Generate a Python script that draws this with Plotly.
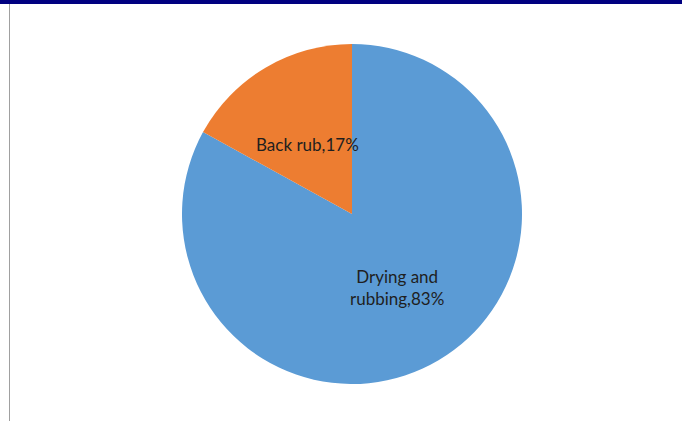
import plotly.graph_objects as go

labels = ["Drying and rubbing", "Back rub"]
values = [83, 17]
label_text = ["Drying and<br>rubbing,83%", "Back rub,17%"]
colors = ["#5B9BD5", "#ED7D31"]

W, H = 682, 421
cx, cy, r = 352, 214, 170

fig = go.Figure(go.Pie(
    labels=labels, values=values, sort=False, direction="clockwise",
    rotation=0, marker=dict(colors=colors, line=dict(width=0)),
    textinfo="none", showlegend=False,
    domain=dict(x=[(cx - r) / W, (cx + r) / W], y=[(H - cy - r) / H, (H - cy + r) / H]),
))

ann_pos = [(397, 287), (307, 144)]
for t, (x, y) in zip(label_text, ann_pos):
    fig.add_annotation(x=x / W, y=1 - y / H, xref="paper", yref="paper", text=t,
                       showarrow=False, font=dict(family="Lato", size=17, color="#1f1f1f"),
                       align="center", xanchor="center", yanchor="middle")

fig.add_shape(type="rect", xref="paper", yref="paper", x0=0, x1=1, y0=1 - 4 / H, y1=1,
              fillcolor="#000080", line=dict(width=0))
fig.add_shape(type="line", xref="paper", yref="paper", x0=9.5 / W, x1=9.5 / W, y0=0, y1=1 - 4 / H,
              line=dict(color="#A0A0A0", width=1))

fig.update_layout(width=W, height=H, margin=dict(l=0, r=0, t=0, b=0),
                  paper_bgcolor="white", plot_bgcolor="white")
fig.write_html("out.html")
